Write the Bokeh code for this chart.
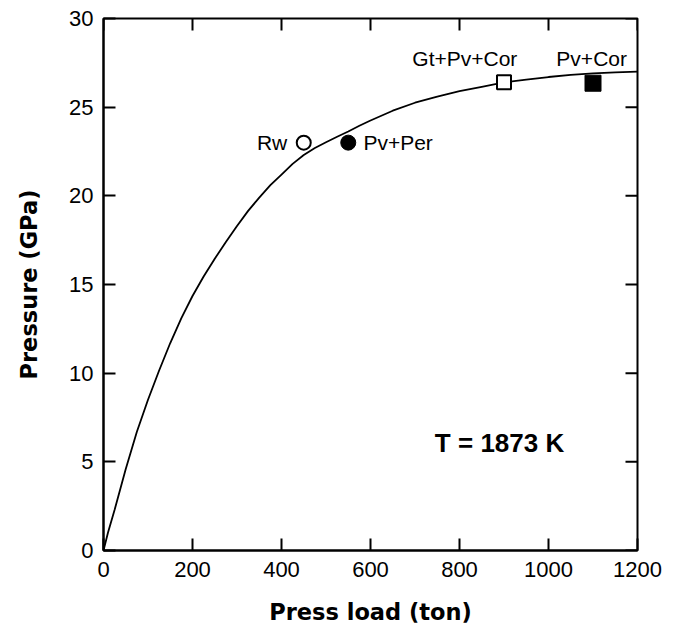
import math
from bokeh.plotting import figure
from bokeh.models import FixedTicker, Range1d
from bokeh.core.properties import value
from bokeh.embed import file_html
from bokeh.resources import INLINE

# Curve: press load (ton) vs pressure (GPa)
load = [0, 10, 25, 50, 75, 100, 125, 150, 175, 200, 225, 250, 275, 300, 325,
        350, 375, 400, 425, 450, 475, 500, 525, 550, 575, 600, 650, 700, 750,
        800, 850, 900, 950, 1000, 1050, 1100, 1150, 1200]
pressure = [0, 1.0, 2.3, 4.6, 6.7, 8.5, 10.15, 11.7, 13.1, 14.35, 15.45, 16.45,
            17.4, 18.3, 19.15, 19.9, 20.6, 21.2, 21.8, 22.3, 22.7, 23.02,
            23.33, 23.63, 23.95, 24.25, 24.8, 25.25, 25.6, 25.9, 26.15, 26.4,
            26.55, 26.7, 26.82, 26.9, 26.96, 27.0]

# Phase observations
rw_x, rw_y = [450], [23.0]
pvper_x, pvper_y = [550], [23.0]
gt_x, gt_y = [900], [26.4]
pvcor_x, pvcor_y = [1100], [26.35]

x_ticks = [0, 200, 400, 600, 800, 1000, 1200]
y_ticks = [0, 5, 10, 15, 20, 25, 30]
x_max, y_max = 1200, 30

FONT = "Liberation Sans"
BOLD = "DejaVu Sans"

p = figure(width=670, height=627, output_backend="svg", toolbar_location=None,
           x_range=Range1d(0, x_max), y_range=Range1d(0, y_max),
           min_border_left=103, min_border_right=33, min_border_top=18,
           min_border_bottom=75)
p.grid.visible = False
p.outline_line_color = "black"
p.outline_line_width = 2
p.background_fill_color = "white"
p.border_fill_color = "white"

p.line(load, pressure, line_color="black", line_width=1.8)

p.scatter(rw_x, rw_y, marker="circle", size=14, fill_color="white",
          line_color="black", line_width=2)
p.scatter(pvper_x, pvper_y, marker="circle", size=15, fill_color="black",
          line_color="black")
p.scatter(gt_x, gt_y, marker="square", size=14, fill_color="white",
          line_color="black", line_width=2)
p.scatter(pvcor_x, pvcor_y, marker="square", size=16, fill_color="black",
          line_color="black")

# inward ticks on the top and right edges (half of each dash is clipped)
p.scatter(x_ticks, [y_max] * len(x_ticks), marker="dash", angle=math.pi / 2,
          size=24, line_color="black", line_width=2)
p.scatter([x_max] * len(y_ticks), y_ticks, marker="dash", size=24,
          line_color="black", line_width=2)

lab = dict(text_font=value(FONT), text_font_size="21px", text_color="black",
           text_baseline="middle")
p.text(x=[413], y=[23.0], text=["Rw"], text_align="right", **lab)
p.text(x=[584], y=[23.0], text=["Pv+Per"], text_align="left", **lab)
p.text(x=[812], y=[27.75], text=["Gt+Pv+Cor"], text_align="center", **lab)
p.text(x=[1097], y=[27.75], text=["Pv+Cor"], text_align="center", **lab)
p.text(x=[890], y=[6.07], text=["T = 1873 K"], text_align="center",
       text_baseline="middle", text_font=value(FONT), text_font_size="26px",
       text_font_style="bold", text_color="black")

def style(ax):
    ax.axis_line_color = "black"
    ax.axis_line_width = 2
    ax.major_tick_in = 12
    ax.major_tick_out = 0
    ax.major_tick_line_width = 2
    ax.major_tick_line_color = "black"
    ax.minor_tick_line_color = None
    ax.major_label_text_font = FONT
    ax.major_label_text_font_size = "22px"
    ax.major_label_text_color = "black"
    ax.axis_label_text_font = BOLD
    ax.axis_label_text_font_style = "bold"
    ax.axis_label_text_font_size = "22.5px"
    ax.axis_label_text_color = "black"

xa = p.xaxis[0]
xa.ticker = FixedTicker(ticks=x_ticks)
style(xa)
xa.major_label_standoff = 11
xa.axis_label = "Press load (ton)"
xa.axis_label_standoff = 19

ya = p.yaxis[0]
ya.ticker = FixedTicker(ticks=y_ticks)
style(ya)
ya.major_label_standoff = 10
ya.axis_label = "Pressure (GPa)"
ya.axis_label_standoff = 24

open("out.html", "w").write(file_html(p, INLINE))
